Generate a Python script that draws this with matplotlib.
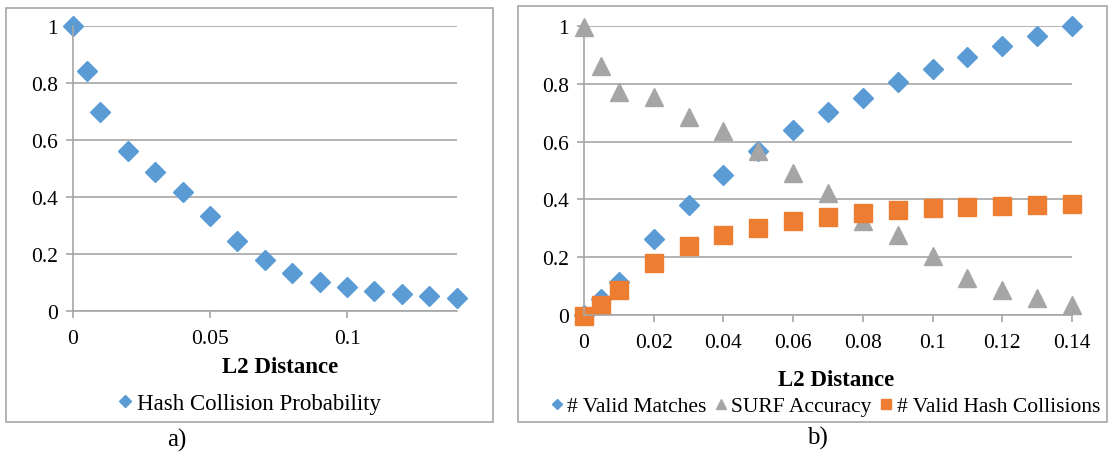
import matplotlib.pyplot as plt
from matplotlib.patches import Rectangle

plt.rcParams['font.family'] = ['Liberation Serif', 'DejaVu Serif']

# a) hash collision probability
dist_a = [0, 0.005, 0.01, 0.02, 0.03, 0.04, 0.05, 0.06, 0.07, 0.08,
          0.09, 0.10, 0.11, 0.12, 0.13, 0.14]
hash_prob = [1.0, 0.843, 0.70, 0.564, 0.488, 0.42, 0.333, 0.246, 0.179,
             0.133, 0.103, 0.085, 0.071, 0.062, 0.054, 0.048]

# b) matches / accuracy / collisions
dist_b = dist_a
valid_matches = [0.0, 0.055, 0.114, 0.262, 0.382, 0.484, 0.566, 0.642,
                 0.703, 0.753, 0.806, 0.852, 0.892, 0.931, 0.966, 1.0]
surf_accuracy = [0.998, 0.864, 0.771, 0.754, 0.684, 0.638, 0.569, 0.491,
                 0.422, 0.325, 0.277, 0.202, 0.126, 0.086, 0.057, 0.035]
hash_collisions = [-0.003, 0.034, 0.084, 0.179, 0.238, 0.275, 0.30, 0.324,
                   0.34, 0.354, 0.363, 0.369, 0.373, 0.377, 0.38, 0.385]

W, H = 1109, 456
fig = plt.figure(figsize=(W / 100, H / 100), dpi=100)

GRAY = '#a6a6a6'
BLUE = '#5b9bd5'
ORANGE = '#ed7d31'
MGRAY = '#a5a5a5'


def px_axes(x0, x1, ytop, ybot):
    return fig.add_axes([x0 / W, (H - ybot) / H, (x1 - x0) / W, (ybot - ytop) / H])


def style(ax, xticks):
    ax.set_xlim(0, 0.14)
    ax.set_ylim(0, 1)
    ax.set_xticks(xticks)
    ax.set_xticklabels(['%g' % t for t in xticks])
    ax.set_yticks([0, 0.2, 0.4, 0.6, 0.8, 1])
    ax.set_yticklabels(['0', '0.2', '0.4', '0.6', '0.8', '1'])
    ax.grid(axis='y', color=GRAY, lw=1.2)
    ax.set_axisbelow(True)
    for s in ['top', 'right']:
        ax.spines[s].set_visible(False)
    for s in ['left', 'bottom']:
        ax.spines[s].set_color(GRAY)
        ax.spines[s].set_linewidth(1.2)
    ax.tick_params(colors=GRAY, labelcolor='black', labelsize=15.5,
                   length=5, width=1.2)
    ax.tick_params(axis='x', pad=8)
    ax.tick_params(axis='y', pad=6)
    ax.patch.set_alpha(0)


# frames
fig.patches.append(Rectangle((6 / W, (H - 423) / H), 487 / W, 414 / H,
                             transform=fig.transFigure, fill=False,
                             edgecolor=GRAY, lw=1.2))
fig.patches.append(Rectangle((518 / W, (H - 423) / H), 589 / W, 416 / H,
                             transform=fig.transFigure, fill=False,
                             edgecolor=GRAY, lw=1.2))

# panel a
ax1 = px_axes(73, 456.7, 27.3, 312.3)
style(ax1, [0, 0.05, 0.1])
ax1.plot(dist_a, hash_prob, 'D', color=BLUE, ms=10, ls='none',
         clip_on=False, label='Hash Collision Probability')
fig.text(280 / W, 1 - 368 / H, 'L2 Distance', ha='center', va='center',
         fontsize=16.5, fontweight='bold')
fig.legend(handles=ax1.get_lines(), loc='center',
           bbox_to_anchor=(249.5 / W, 1 - 404 / H), frameon=False,
           fontsize=16.5, markerscale=0.6, handlelength=0.6, handletextpad=0.2)
fig.text(177 / W, 1 - 440 / H, 'a)', ha='center', va='center', fontsize=18)

# panel b
ax2 = px_axes(584, 1072, 27.3, 315.7)
style(ax2, [0, 0.02, 0.04, 0.06, 0.08, 0.1, 0.12, 0.14])
ax2.plot(dist_b, valid_matches, 'D', color=BLUE, ms=9.8, ls='none',
         clip_on=False, label='# Valid Matches')
ax2.plot(dist_b, surf_accuracy, '^', color=MGRAY, ms=13, ls='none',
         clip_on=False, label='SURF Accuracy')
ax2.plot(dist_b, hash_collisions, 's', color=ORANGE, ms=13.5, ls='none',
         clip_on=False, label='# Valid Hash Collisions')
fig.text(836 / W, 1 - 380 / H, 'L2 Distance', ha='center', va='center',
         fontsize=16.5, fontweight='bold')
fig.legend(handles=ax2.get_lines(), loc='center', ncol=3,
           bbox_to_anchor=(825 / W, 1 - 407 / H), frameon=False,
           fontsize=15.5, markerscale=0.5, handlelength=0.6, handletextpad=0.2,
           columnspacing=0.35)
fig.text(817 / W, 1 - 438 / H, 'b)', ha='center', va='center', fontsize=18)

fig.savefig('out.png', dpi=100)
